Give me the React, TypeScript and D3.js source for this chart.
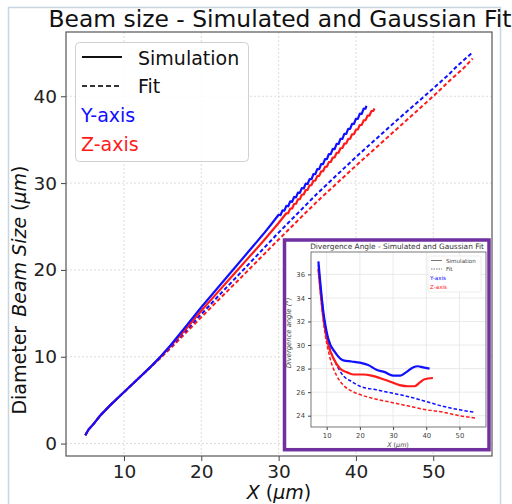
import React, { useEffect, useRef } from 'react';
import * as d3 from 'd3';

// ---- main plot: diameter vs X ----
const simYX = [5.0, 5.4, 6.1, 6.9, 8.2, 9.5, 10.8, 12.1, 13.4, 14.6, 16, 18, 20, 22, 24, 26, 28, 29,
    30, 30.25, 30.5, 30.75, 31, 31.25, 31.5, 31.75, 32, 32.25, 32.5, 32.75, 33, 33.25, 33.5, 33.75,
    34, 34.25, 34.5, 34.75, 35, 35.25, 35.5, 35.75, 36, 36.25, 36.5, 36.75, 37, 37.25, 37.5, 37.75,
    38, 38.25, 38.5, 38.75, 39, 39.25, 39.5, 39.75, 40, 40.25, 40.5, 40.75, 41, 41.25, 41.35];
const simYD = [0.96, 1.6, 2.3, 3.2, 4.4, 5.5, 6.6, 7.7, 8.8, 9.9, 11.3, 13.5, 15.7, 17.8, 19.9, 22.0, 24.1, 25.2,
    26.35, 26.31, 26.86, 26.82, 27.38, 27.33, 27.89, 27.84, 28.40, 28.36, 28.91, 28.87, 29.43, 29.38, 29.94, 29.89,
    30.45, 30.44, 31.03, 31.02, 31.61, 31.60, 32.19, 32.18, 32.77, 32.76, 33.35, 33.34, 33.93, 33.92, 34.51, 34.50,
    35.09, 35.08, 35.67, 35.66, 36.25, 36.24, 36.83, 36.82, 37.41, 37.40, 37.99, 37.98, 38.57, 38.56, 38.9];

const simZX = [5.0, 5.4, 6.1, 6.9, 8.2, 9.5, 10.8, 12.1, 13.4, 14.6, 16, 18, 20, 22, 24, 26, 28, 30,
    31, 31.25, 31.5, 31.75, 32, 32.25, 32.5, 32.75, 33, 33.25, 33.5, 33.75, 34, 34.25, 34.5, 34.75,
    35, 35.25, 35.5, 35.75, 36, 36.25, 36.5, 36.75, 37, 37.25, 37.5, 37.75, 38, 38.25, 38.5, 38.75,
    39, 39.25, 39.5, 39.75, 40, 40.25, 40.5, 40.75, 41, 41.25, 41.5, 41.75, 42, 42.25, 42.4];
const simZD = [0.96, 1.6, 2.3, 3.2, 4.4, 5.5, 6.6, 7.7, 8.8, 9.85, 11.2, 13.2, 15.3, 17.3, 19.3, 21.3, 23.3, 25.4,
    26.52, 26.55, 27.06, 27.08, 27.59, 27.62, 28.13, 28.15, 28.66, 28.69, 29.20, 29.22, 29.73, 29.76, 30.27, 30.29,
    30.80, 30.83, 31.34, 31.36, 31.87, 31.90, 32.41, 32.43, 32.94, 32.97, 33.48, 33.50, 34.01, 34.04, 34.55, 34.57,
    35.08, 35.11, 35.62, 35.64, 36.15, 36.18, 36.69, 36.71, 37.22, 37.25, 37.76, 37.78, 38.29, 38.32, 38.6];

const fitYX = [5.0, 5.4, 6.1, 6.9, 8.2, 9.5, 10.8, 12.1, 13.4, 14.6, 16, 18, 20, 22, 25, 30, 35, 40, 45, 50, 52, 53, 54, 55.15];
const fitYD = [0.96, 1.6, 2.3, 3.2, 4.4, 5.5, 6.6, 7.7, 8.8, 9.85, 11.1, 13.0, 14.9, 16.8, 19.6, 24.3, 28.8, 33.0, 37.0, 40.9, 42.5, 43.4, 44.2, 45.1];

const fitZX = [5.0, 5.4, 6.1, 6.9, 8.2, 9.5, 10.8, 12.1, 13.4, 14.6, 16, 18, 20, 22, 25, 30, 35, 40, 45, 50, 52, 53, 54, 55.1];
const fitZD = [0.96, 1.6, 2.3, 3.2, 4.4, 5.5, 6.6, 7.7, 8.75, 9.75, 10.95, 12.75, 14.55, 16.35, 19.0, 23.5, 27.9, 32.0, 36.0, 40.0, 41.7, 42.5, 43.3, 44.35];

const xTicks = [10, 20, 30, 40, 50];
const yTicks = [0, 10, 20, 30, 40];

// ---- inset: divergence angle vs X ----
const angSimYX = [7.5, 9, 10.5, 12.5, 15, 17.5, 20, 22.5, 25, 27.5, 30, 32.2, 34, 36, 37.5, 39, 41];
const angSimYA = [37.1, 32.8, 30.5, 29.4, 28.7, 28.6, 28.5, 28.3, 27.9, 27.7, 27.4, 27.4, 27.7, 28.1, 28.2, 28.1, 28.0];
const angSimZX = [7.5, 9, 10.5, 12, 14, 16, 18, 21, 23.5, 26, 29, 32, 34.5, 36.5, 38, 39.5, 42];
const angSimZA = [36.5, 32.3, 30.0, 28.9, 28.0, 27.7, 27.5, 27.5, 27.4, 27.2, 26.9, 26.6, 26.5, 26.5, 26.8, 27.1, 27.2];
const angFitX = [7.5, 9, 11, 13, 15, 17.5, 20, 25, 30, 35, 40, 45, 50, 54.7];
const angFitYA = [36.8, 32.8, 29.7, 28.3, 27.4, 26.9, 26.5, 26.2, 25.9, 25.6, 25.2, 24.8, 24.5, 24.3];
const angFitZA = [36.4, 32.0, 28.9, 27.4, 26.6, 26.1, 25.8, 25.4, 25.1, 24.8, 24.5, 24.3, 24.0, 23.8];

const insetXTicks = [10, 20, 30, 40, 50];
const insetYTicks = [24, 26, 28, 30, 32, 34, 36];

const BLUE = '#1010ff';
const RED = '#ff1a1a';
const FONT = 'DejaVu Sans, Verdana, sans-serif';

const App = () => {
    const svgRef = useRef<SVGSVGElement | null>(null);

    useEffect(() => {
        const svg = d3.select(svgRef.current);
        svg.selectAll('*').remove();

        // outer frame of the figure
        svg.append('path')
            .attr('d', 'M8.5,504 V7.5 H500.5 V504')
            .attr('fill', 'none')
            .attr('stroke', '#c9d6e2')
            .attr('stroke-width', 1.5);

        const m = { left: 66, right: 492, top: 32, bottom: 456 };
        const x = d3.scaleLinear().domain([2.5, 57.6]).range([m.left, m.right]);
        const y = d3.scaleLinear().domain([-1.43, 47.4]).range([m.bottom, m.top]);

        // grid
        const grid = svg.append('g');
        xTicks.forEach(t => {
            grid.append('line')
                .attr('x1', x(t)).attr('x2', x(t))
                .attr('y1', m.top).attr('y2', m.bottom)
                .attr('stroke', '#dcdcdc').attr('stroke-dasharray', '2,2');
        });
        yTicks.forEach(t => {
            grid.append('line')
                .attr('x1', m.left).attr('x2', m.right)
                .attr('y1', y(t)).attr('y2', y(t))
                .attr('stroke', '#dcdcdc').attr('stroke-dasharray', '2,2');
        });

        // axes
        const styleAxis = (g, size) => {
            g.select('.domain').remove();
            g.selectAll('.tick line').attr('stroke', '#444');
            g.selectAll('.tick text')
                .attr('fill', '#222')
                .style('font-family', FONT)
                .style('font-size', `${size}px`);
        };
        svg.append('g')
            .attr('transform', `translate(0,${m.bottom})`)
            .call(d3.axisBottom(x).tickValues(xTicks).tickSize(5).tickPadding(4))
            .call(g => styleAxis(g, 18.5));
        svg.append('g')
            .attr('transform', `translate(${m.left},0)`)
            .call(d3.axisLeft(y).tickValues(yTicks).tickSize(5).tickPadding(4))
            .call(g => styleAxis(g, 18.5));

        svg.append('rect')
            .attr('x', m.left).attr('y', m.top)
            .attr('width', m.right - m.left).attr('height', m.bottom - m.top)
            .attr('fill', 'none').attr('stroke', '#555').attr('stroke-width', 1.2);

        // series
        const line = d3.line<[number, number]>()
            .x(d => x(d[0])).y(d => y(d[1]));
        const series = [
            { xs: fitZX, ys: fitZD, color: RED, dash: '4,2.5', w: 2 },
            { xs: fitYX, ys: fitYD, color: BLUE, dash: '4,2.5', w: 2 },
            { xs: simZX, ys: simZD, color: RED, dash: null, w: 2.2 },
            { xs: simYX, ys: simYD, color: BLUE, dash: null, w: 2.2 },
        ];
        series.forEach(s => {
            svg.append('path')
                .attr('d', line(s.xs.map((v, i) => [v, s.ys[i]])))
                .attr('fill', 'none')
                .attr('stroke', s.color)
                .attr('stroke-width', s.w)
                .attr('stroke-linejoin', 'round')
                .attr('stroke-dasharray', s.dash);
        });

        // title & labels
        svg.append('text')
            .attr('x', 280).attr('y', 27)
            .attr('text-anchor', 'middle')
            .style('font-family', FONT).style('font-size', '23.4px')
            .attr('fill', '#111')
            .text('Beam size - Simulated and Gaussian Fit');

        const xl = svg.append('text')
            .attr('x', 279).attr('y', 499)
            .attr('text-anchor', 'middle')
            .style('font-family', FONT).style('font-size', '19px')
            .attr('fill', '#111');
        xl.append('tspan').style('font-style', 'italic').text('X');
        xl.append('tspan').text(' (');
        xl.append('tspan').style('font-style', 'italic').text('μm');
        xl.append('tspan').text(')');

        const yl = svg.append('text')
            .attr('transform', 'translate(26,290) rotate(-90)')
            .attr('text-anchor', 'middle')
            .style('font-family', FONT).style('font-size', '19px')
            .attr('fill', '#111');
        yl.append('tspan').text('Diameter');
        yl.append('tspan').attr('dx', 9).style('font-style', 'italic').text('Beam Size');
        yl.append('tspan').text(' (');
        yl.append('tspan').style('font-style', 'italic').text('μm');
        yl.append('tspan').text(')');

        // legend
        const lg = svg.append('g');
        lg.append('rect')
            .attr('x', 75.5).attr('y', 42.5).attr('width', 173).attr('height', 119).attr('rx', 4)
            .attr('fill', 'white').attr('fill-opacity', 0.85)
            .attr('stroke', '#d0d0d0');
        lg.append('line').attr('x1', 82).attr('x2', 122).attr('y1', 57).attr('y2', 57)
            .attr('stroke', '#111').attr('stroke-width', 1.8);
        lg.append('line').attr('x1', 82).attr('x2', 122).attr('y1', 86).attr('y2', 86)
            .attr('stroke', '#333').attr('stroke-width', 1.8).attr('stroke-dasharray', '5,3');
        const lgText = [
            { t: 'Simulation', x: 138, y: 65, c: '#111' },
            { t: 'Fit', x: 138, y: 93, c: '#111' },
            { t: 'Y-axis', x: 81, y: 122, c: BLUE },
            { t: 'Z-axis', x: 81, y: 151, c: RED },
        ];
        lgText.forEach(d => {
            lg.append('text').attr('x', d.x).attr('y', d.y)
                .style('font-family', FONT).style('font-size', '19px')
                .attr('fill', d.c).text(d.t);
        });

        // ---- inset ----
        const ins = svg.append('g');
        ins.append('rect')
            .attr('x', 284.5).attr('y', 240).attr('width', 204.5).attr('height', 209.7)
            .attr('fill', 'white').attr('stroke', '#7030a0').attr('stroke-width', 3.5);

        const im = { left: 311, right: 486, top: 252, bottom: 427 };
        const ix = d3.scaleLinear().domain([5.27, 58]).range([im.left, im.right]);
        const iy = d3.scaleLinear().domain([23.04, 37.9]).range([im.bottom, im.top]);

        insetXTicks.forEach(t => {
            ins.append('line').attr('x1', ix(t)).attr('x2', ix(t))
                .attr('y1', im.top).attr('y2', im.bottom)
                .attr('stroke', '#e4e4e4').attr('stroke-width', 0.8);
        });
        insetYTicks.forEach(t => {
            ins.append('line').attr('x1', im.left).attr('x2', im.right)
                .attr('y1', iy(t)).attr('y2', iy(t))
                .attr('stroke', '#e4e4e4').attr('stroke-width', 0.8);
        });

        ins.append('g')
            .attr('transform', `translate(0,${im.bottom})`)
            .call(d3.axisBottom(ix).tickValues(insetXTicks).tickSize(3).tickPadding(3))
            .call(g => styleAxis(g, 6.8));
        ins.append('g')
            .attr('transform', `translate(${im.left},0)`)
            .call(d3.axisLeft(iy).tickValues(insetYTicks).tickSize(3).tickPadding(3))
            .call(g => styleAxis(g, 6.8));
        ins.selectAll('.tick text').attr('fill', '#444');

        ins.append('rect')
            .attr('x', im.left).attr('y', im.top)
            .attr('width', im.right - im.left).attr('height', im.bottom - im.top)
            .attr('fill', 'none').attr('stroke', '#555').attr('stroke-width', 0.8);

        const iline = d3.line<[number, number]>()
            .x(d => ix(d[0])).y(d => iy(d[1]))
            .curve(d3.curveMonotoneX);
        const iseries = [
            { xs: angFitX, ys: angFitZA, color: RED, dash: '3.5,2', w: 1.5 },
            { xs: angFitX, ys: angFitYA, color: BLUE, dash: '3.5,2', w: 1.5 },
            { xs: angSimZX, ys: angSimZA, color: RED, dash: null, w: 2.2 },
            { xs: angSimYX, ys: angSimYA, color: BLUE, dash: null, w: 2.2 },
        ];
        iseries.forEach(s => {
            ins.append('path')
                .attr('d', iline(s.xs.map((v, i) => [v, s.ys[i]])))
                .attr('fill', 'none')
                .attr('stroke', s.color)
                .attr('stroke-width', s.w)
                .attr('stroke-dasharray', s.dash);
        });

        ins.append('text')
            .attr('x', 397).attr('y', 248.5)
            .attr('text-anchor', 'middle')
            .style('font-family', FONT).style('font-size', '7.4px')
            .attr('fill', '#333')
            .text('Divergence Angle - Simulated and Gaussian Fit');

        const ixl = ins.append('text')
            .attr('x', 398).attr('y', 447)
            .attr('text-anchor', 'middle')
            .style('font-family', FONT).style('font-size', '6.4px')
            .attr('fill', '#444');
        ixl.append('tspan').style('font-style', 'italic').text('X');
        ixl.append('tspan').text(' (');
        ixl.append('tspan').style('font-style', 'italic').text('μm');
        ixl.append('tspan').text(')');

        ins.append('text')
            .attr('transform', 'translate(291,333) rotate(-90)')
            .attr('text-anchor', 'middle')
            .style('font-family', FONT).style('font-size', '6.8px')
            .style('font-style', 'italic')
            .attr('fill', '#444')
            .text('Divergence angle (°)');

        // inset legend
        ins.append('rect')
            .attr('x', 428).attr('y', 256).attr('width', 53).attr('height', 36).attr('rx', 1.5)
            .attr('fill', 'white').attr('stroke', '#e0e0e0').attr('stroke-width', 0.6);
        ins.append('line').attr('x1', 431).attr('x2', 442).attr('y1', 260.5).attr('y2', 260.5)
            .attr('stroke', '#777').attr('stroke-width', 1);
        ins.append('line').attr('x1', 431).attr('x2', 442).attr('y1', 269).attr('y2', 269)
            .attr('stroke', '#777').attr('stroke-width', 1).attr('stroke-dasharray', '1.5,1');
        const ilg = [
            { t: 'Simulation', x: 446, y: 262.5, c: '#444' },
            { t: 'Fit', x: 446, y: 271, c: '#444' },
            { t: 'Y-axis', x: 430, y: 279.8, c: BLUE },
            { t: 'Z-axis', x: 430, y: 288.6, c: RED },
        ];
        ilg.forEach(d => {
            ins.append('text').attr('x', d.x).attr('y', d.y)
                .style('font-family', FONT).style('font-size', '5.6px')
                .attr('fill', d.c).text(d.t);
        });
    }, []);

    return (
        <svg
            ref={svgRef}
            width={512}
            height={504}
            style={{ position: 'absolute', left: 0, top: 0, background: '#fff', display: 'block' }}
        />
    );
};

export default App;
